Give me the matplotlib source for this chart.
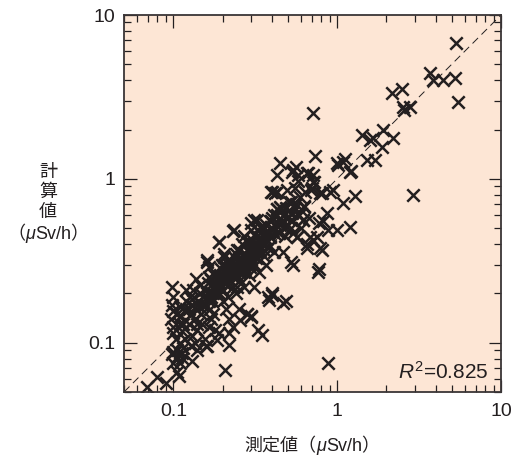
import matplotlib
matplotlib.use("Agg")
import matplotlib.pyplot as plt
from matplotlib.ticker import FixedLocator, FuncFormatter, LogLocator, NullFormatter

plt.rcParams['font.family'] = ['Liberation Sans', 'Noto Sans CJK JP']
plt.rcParams['mathtext.fontset'] = 'custom'
plt.rcParams['mathtext.rm'] = 'Liberation Sans'
plt.rcParams['mathtext.it'] = 'Liberation Sans:italic'

# ---- data: measured (x) vs calculated (y), uSv/h ----
x_outer = [5.35, 3.7, 3.86, 4.45, 5.27, 5.5, 2.17, 2.5, 2.53, 2.8, 2.57, 0.713, 1.42, 1.59,
           1.66, 1.91, 2.2, 1.88, 1.53, 1.71, 0.733, 0.448, 1.0, 1.12, 1.22, 0.43, 0.54, 0.58,
           0.655, 0.713, 1.29, 2.92, 0.40, 0.495, 0.55, 0.70, 0.81, 0.906, 0.945, 1.01, 1.09,
           1.2, 1.09, 1.2, 1.0, 0.87, 0.82, 0.88, 0.71, 0.81, 0.655, 0.765, 0.88, 0.62]
y_outer = [6.75, 4.43, 4.02, 4.02, 4.13, 2.95, 3.34, 3.54, 2.75, 2.75, 2.63, 2.53, 1.85, 1.73,
           1.78, 1.99, 1.78, 1.57, 1.31, 1.31, 1.38, 1.25, 1.25, 1.32, 1.12, 1.06, 1.13, 1.06,
           1.09, 1.06, 0.79, 0.80, 0.83, 0.86, 0.88, 0.88, 0.82, 0.83, 0.86, 1.22, 1.27,
           1.1, 0.71, 0.51, 0.49, 0.62, 0.55, 0.49, 0.425, 0.37, 0.38, 0.27, 0.0755, 0.56]

x_mid = [0.56, 0.53, 0.42, 0.69, 0.72, 0.52, 0.455, 0.43, 0.63, 0.585, 0.67, 0.53, 0.776,
         0.46, 0.75, 0.65, 0.57, 0.52, 0.54, 0.776, 0.235, 0.19, 0.16, 0.204, 0.34, 0.325,
         0.30, 0.395, 0.44, 0.37, 0.28, 0.27, 0.36, 0.39, 0.47, 0.47, 0.35, 0.33, 0.22,
         0.207, 0.40, 0.385, 0.28, 0.30, 0.255, 0.23, 0.19, 0.185, 0.16, 0.14]
y_mid = [1.18, 1.1, 0.82, 0.86, 0.95, 0.72, 0.665, 0.65, 0.675, 0.60, 0.58, 0.56, 0.54,
         0.55, 0.44, 0.40, 0.44, 0.31, 0.30, 0.28, 0.49, 0.41, 0.31, 0.335, 0.51, 0.56,
         0.49, 0.55, 0.47, 0.43, 0.41, 0.354, 0.37, 0.39, 0.36, 0.175, 0.112, 0.12, 0.097,
         0.068, 0.196, 0.183, 0.15, 0.144, 0.138, 0.125, 0.115, 0.104, 0.095, 0.09]

x_low = [0.069, 0.08, 0.09, 0.109, 0.099, 0.098, 0.13, 0.106, 0.10, 0.113, 0.155, 0.158]
y_low = [0.054, 0.062, 0.057, 0.063, 0.075, 0.085, 0.077, 0.066, 0.088, 0.087, 0.105, 0.095]

x_band = [0.098, 0.10, 0.098, 0.10, 0.097, 0.10, 0.099, 0.104, 0.11, 0.105, 0.11, 0.112,
          0.115, 0.113, 0.118, 0.12, 0.12, 0.118, 0.115, 0.113, 0.105, 0.11,
          0.125, 0.128, 0.13, 0.127, 0.132, 0.135, 0.138, 0.14, 0.142, 0.145, 0.148, 0.13,
          0.136, 0.128, 0.15, 0.145, 0.138,
          0.155, 0.16, 0.158, 0.162, 0.165, 0.168, 0.17, 0.172, 0.175, 0.178, 0.16, 0.165,
          0.17, 0.175, 0.18, 0.165,
          0.185, 0.19, 0.188, 0.192, 0.195, 0.198, 0.2, 0.205, 0.2, 0.21, 0.212, 0.215,
          0.205, 0.19, 0.2, 0.21, 0.215, 0.22, 0.22, 0.218, 0.225, 0.225, 0.23,
          0.23, 0.235, 0.232, 0.238, 0.24, 0.245, 0.248, 0.25, 0.252, 0.255, 0.245, 0.26,
          0.26, 0.262, 0.265, 0.268, 0.24, 0.25, 0.27, 0.27, 0.245,
          0.275, 0.28, 0.285, 0.29, 0.29, 0.295, 0.3, 0.3, 0.305, 0.31, 0.315, 0.32, 0.32,
          0.325, 0.33, 0.33, 0.34, 0.34, 0.345, 0.3, 0.28, 0.31, 0.3, 0.29, 0.335, 0.31,
          0.36, 0.36, 0.37, 0.37, 0.38, 0.38, 0.39, 0.39, 0.4, 0.38, 0.4, 0.41, 0.42, 0.42,
          0.43, 0.44, 0.44, 0.45, 0.36, 0.37, 0.41, 0.43, 0.395,
          0.46, 0.47, 0.48, 0.49, 0.5, 0.51, 0.52, 0.53, 0.54, 0.56, 0.57, 0.58, 0.59, 0.6,
          0.58, 0.49, 0.62, 0.63, 0.64, 0.66, 0.68, 0.71, 0.79, 0.79,
          0.21, 0.22, 0.24, 0.26, 0.28, 0.3, 0.32, 0.34, 0.23, 0.25, 0.27, 0.29, 0.31,
          0.185, 0.2, 0.215, 0.175, 0.19, 0.145, 0.165, 0.125, 0.14,
          0.15, 0.16, 0.17, 0.18, 0.19, 0.2, 0.21, 0.22, 0.23, 0.24, 0.25, 0.26, 0.27,
          0.28, 0.29, 0.3, 0.31, 0.32, 0.33, 0.35, 0.17, 0.19, 0.21, 0.23, 0.25, 0.27,
          0.29, 0.31, 0.33, 0.12, 0.13, 0.14, 0.11, 0.105,
          0.4, 0.45, 0.5, 0.55, 0.48, 0.43, 0.38, 0.52]
y_band = [0.22, 0.19, 0.17, 0.155, 0.14, 0.125, 0.115, 0.105, 0.10, 0.09, 0.165, 0.145,
          0.13, 0.118, 0.155, 0.18, 0.21, 0.105, 0.093, 0.081, 0.082, 0.075,
          0.13, 0.15, 0.17, 0.19, 0.21, 0.14, 0.16, 0.12, 0.18, 0.2, 0.15, 0.11,
          0.10, 0.095, 0.13, 0.225, 0.245,
          0.17, 0.19, 0.21, 0.23, 0.25, 0.16, 0.2, 0.18, 0.22, 0.26, 0.32, 0.29,
          0.14, 0.15, 0.12, 0.125,
          0.2, 0.22, 0.24, 0.26, 0.28, 0.3, 0.21, 0.23, 0.25, 0.27, 0.29, 0.32,
          0.35, 0.41, 0.18, 0.16, 0.19, 0.24, 0.115, 0.14, 0.31, 0.27, 0.48,
          0.25, 0.28, 0.3, 0.33, 0.35, 0.26, 0.29, 0.31, 0.37, 0.24, 0.22, 0.27,
          0.33, 0.4, 0.3, 0.35, 0.2, 0.16, 0.22, 0.45, 0.37,
          0.28, 0.3, 0.33, 0.36, 0.26, 0.29, 0.32, 0.38, 0.42, 0.34, 0.3, 0.36, 0.44,
          0.39, 0.33, 0.48, 0.42, 0.37, 0.51, 0.145, 0.15, 0.22, 0.54, 0.41, 0.27, 0.56,
          0.4, 0.46, 0.43, 0.52, 0.38, 0.48, 0.55, 0.44, 0.2, 0.19, 0.5, 0.6, 0.46, 0.53,
          0.65, 0.47, 0.56, 0.67, 0.34, 0.3, 0.36, 0.83, 0.83,
          0.55, 0.6, 0.5, 0.66, 0.58, 0.72, 0.56, 0.62, 0.47, 0.7, 0.44, 0.6, 0.78, 0.5,
          0.97, 0.18, 0.56, 0.68, 0.83, 1.09, 0.44, 0.95, 0.82, 0.38,
          0.28, 0.3, 0.3, 0.32, 0.34, 0.36, 0.4, 0.44, 0.26, 0.27, 0.3, 0.32, 0.35,
          0.22, 0.26, 0.26, 0.2, 0.23, 0.165, 0.18, 0.16, 0.13,
          0.17, 0.2, 0.19, 0.22, 0.25, 0.24, 0.23, 0.28, 0.27, 0.3, 0.28, 0.31, 0.29,
          0.34, 0.31, 0.35, 0.4, 0.33, 0.37, 0.42, 0.24, 0.2, 0.26, 0.22, 0.33, 0.27,
          0.3, 0.38, 0.36, 0.16, 0.185, 0.17, 0.13, 0.15,
          0.58, 0.52, 0.64, 0.66, 0.45, 0.6, 0.46, 0.5]

x_vals = x_outer + x_mid + x_low + x_band
y_vals = y_outer + y_mid + y_low + y_band

axis_lims = [0.05, 10]
major_ticks = [0.1, 1, 10]
r2_text = "$R^{2}$=0.825"
xlabel_pieces = [("測定値（", "normal"), ("μ", "italic"), ("Sv/h）", "normal")]
ylabel_chars = ["計", "算", "値"]
ylabel_unit = [("（", "normal"), ("μ", "italic"), ("Sv/h）", "normal")]

ink = "#231f20"

fig = plt.figure(figsize=(5.22, 4.58), dpi=100)
ax = fig.add_axes([124/522, 66/458, 377/522, 377/458])
ax.set_facecolor("#fde6d5")
ax.set_xscale("log")
ax.set_yscale("log")
ax.set_xlim(axis_lims)
ax.set_ylim(axis_lims)

ax.plot(axis_lims, axis_lims, color=ink, lw=0.7, ls=(0, (8, 5)), zorder=1)
ax.scatter(x_vals, y_vals, marker="x", s=80, linewidths=1.8, color=ink, zorder=2)

for a in (ax.xaxis, ax.yaxis):
    a.set_major_locator(FixedLocator(major_ticks))
    a.set_major_formatter(FuncFormatter(lambda v, p: f"{v:g}"))
    a.set_minor_locator(LogLocator(base=10, subs=range(2, 10)))
    a.set_minor_formatter(NullFormatter())
ax.tick_params(which="both", direction="in", top=True, right=True, color=ink, width=0.9)
ax.tick_params(which="major", length=9, labelsize=14, labelcolor=ink)
ax.tick_params(axis="x", which="major", pad=8)
ax.tick_params(axis="y", which="major", pad=6)
ax.tick_params(which="minor", length=5)
for sp in ax.spines.values():
    sp.set_linewidth(1.3)
    sp.set_color("#3a3536")

ax.text(0.966, 0.035, r2_text, transform=ax.transAxes, ha="right", va="baseline",
        fontsize=15, color=ink)


def rich(xc, yb, pieces, size):
    texts = [fig.text(0, yb, s, fontsize=size, style=st, va="baseline", ha="left", color=ink)
             for s, st in pieces]
    fig.canvas.draw()
    r = fig.canvas.get_renderer()
    widths = [t.get_window_extent(r).width / fig.bbox.width for t in texts]
    cur = xc - sum(widths) / 2
    for t, w in zip(texts, widths):
        t.set_x(cur)
        cur += w


rich(312/522, 1 - 451/458, xlabel_pieces, 13)
for i, ch in enumerate(ylabel_chars):
    fig.text(48/522, 1 - (173 + 19.5*i)/458, ch, fontsize=13, ha="center", va="center", color=ink)
rich(48/522, 1 - 239/458, ylabel_unit, 13)

fig.savefig("out.png", dpi=100)
